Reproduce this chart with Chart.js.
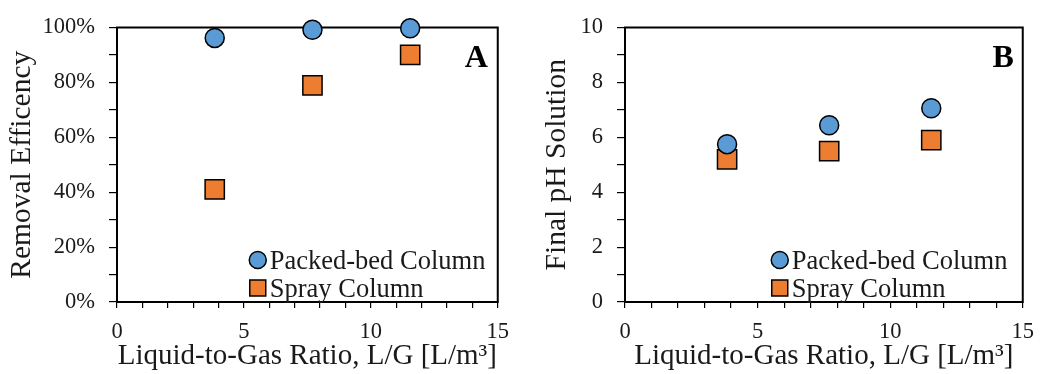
<!DOCTYPE html>
<html>
<head>
<meta charset="utf-8">
<script src="https://cdn.jsdelivr.net/npm/chart.js@4/dist/chart.umd.min.js"></script>
<style>
  html, body { margin: 0; padding: 0; background: #fff; }
  body { width: 1045px; height: 374px; position: relative; overflow: hidden; }
  #wa { position: absolute; left: 0; top: 0; width: 520px; height: 374px; }
  #wb { position: absolute; left: 520px; top: 0; width: 525px; height: 374px; }
</style>
</head>
<body>
<div id="wa"><canvas id="ca" width="520" height="374"></canvas></div>
<div id="wb"><canvas id="cb" width="525" height="374"></canvas></div>
<script>
// ---- data ----
const lgRatio = [3.85, 7.7, 11.55];
const removalPacked = [96.2, 99.2, 99.7];
const removalSpray = [41.0, 78.9, 90.0];
const phPacked = [5.75, 6.44, 7.06];
const phSpray = [5.2, 5.5, 5.9];
const seriesNames = ['Packed-bed Column', 'Spray Column'];
const panelLabels = ['A', 'B'];
const xTitle = 'Liquid-to-Gas Ratio, L/G [L/m³]';
const yTitles = ['Removal Efficency', 'Final pH Solution'];

const FONT = "'Liberation Serif', 'Times New Roman', serif";
const BLUE = '#5B9BD5';
const ORANGE = '#ED7D31';

const framePlugin = {
  id: 'frame',
  beforeDatasetsDraw(chart) {
    const a = chart.chartArea, ctx = chart.ctx;
    ctx.save();
    ctx.strokeStyle = '#000';
    ctx.lineWidth = 2;
    ctx.strokeRect(a.left, a.top, a.right - a.left, a.bottom - a.top);
    ctx.restore();
  }
};

const overlayPlugin = {
  id: 'overlay',
  afterDatasetsDraw(chart, args, opts) {
    const a = chart.chartArea, ctx = chart.ctx;
    ctx.save();
    // panel letter
    ctx.fillStyle = '#000';
    ctx.font = 'bold 32px ' + FONT;
    ctx.textAlign = 'right';
    ctx.textBaseline = 'alphabetic';
    ctx.fillText(opts.letter, a.right - opts.letterDx, a.top + 39);
    // legend
    const lx = a.right - opts.legendDx;
    const ds = chart.data.datasets;
    const rows = [{y: 260, base: 269}, {y: 288, base: 297}];
    ds.forEach((d, i) => {
      const r = rows[i];
      ctx.fillStyle = d.backgroundColor;
      ctx.strokeStyle = '#000';
      ctx.lineWidth = 1.5;
      ctx.beginPath();
      if (d.pointStyle === 'circle') {
        ctx.arc(lx, r.y, 8.5, 0, Math.PI * 2);
      } else {
        ctx.rect(lx - 8, r.y - 8, 16, 16);
      }
      ctx.fill();
      ctx.stroke();
      ctx.fillStyle = '#1a1a1a';
      ctx.font = '26.5px ' + FONT;
      ctx.textAlign = 'left';
      ctx.fillText(d.label, lx + 12, r.base);
    });
    ctx.restore();
  }
};

function makeChart(id, yA, yB, cfg) {
  return new Chart(document.getElementById(id), {
    type: 'scatter',
    data: {
      datasets: [
        { label: seriesNames[0], data: lgRatio.map((x, i) => ({x, y: yA[i]})),
          pointStyle: 'circle', pointRadius: 9.5, pointHoverRadius: 9.5,
          backgroundColor: BLUE, borderColor: '#000', borderWidth: 1.5, clip: false },
        { label: seriesNames[1], data: lgRatio.map((x, i) => ({x, y: yB[i]})),
          pointStyle: 'rect', pointRadius: 13.6, pointHoverRadius: 13.6,
          backgroundColor: ORANGE, borderColor: '#000', borderWidth: 1.5, clip: false }
      ]
    },
    options: {
      responsive: false,
      animation: false,
      events: [],
      layout: { padding: { left: 0, right: cfg.padRight, top: 24, bottom: 0 } },
      plugins: {
        legend: { display: false },
        tooltip: { enabled: false },
        overlay: { letter: cfg.letter, letterDx: cfg.letterDx, legendDx: cfg.legendDx }
      },
      scales: {
        x: {
          type: 'linear', min: 0, max: 15,
          border: { display: true, color: '#000', width: 2 },
          grid: { drawOnChartArea: false, drawTicks: true, tickLength: 6, color: '#000', lineWidth: 1.2 },
          ticks: {
            stepSize: 1, autoSkip: false, maxRotation: 0, padding: 11,
            color: '#1a1a1a', font: { family: FONT, size: 22.5 },
            callback: v => (v % 5 === 0 ? String(v) : '')
          },
          title: { display: true, text: xTitle, color: '#1a1a1a',
                   font: { family: FONT, size: 29 }, padding: { top: 0, bottom: 0 } },
          afterFit: s => { s.height = 72; }
        },
        y: {
          type: 'linear', min: cfg.yMin, max: cfg.yMax,
          border: { display: true, color: '#000', width: 2 },
          grid: { drawOnChartArea: false, drawTicks: true, tickLength: 8, color: '#000', lineWidth: 1.2 },
          ticks: {
            stepSize: cfg.yStep, autoSkip: false, padding: 14,
            color: '#1a1a1a', font: { family: FONT, size: 22.5 },
            callback: cfg.yLabel
          },
          title: { display: true, text: cfg.yTitle, color: '#1a1a1a',
                   font: { family: FONT, size: 29.5 }, padding: { top: cfg.yTitlePad, bottom: 0 } },
          afterFit: s => { s.width = cfg.yWidth; }
        }
      }
    },
    plugins: [framePlugin, overlayPlugin]
  });
}

makeChart('ca', removalPacked, removalSpray, {
  letter: panelLabels[0], letterDx: 10, legendDx: 240, padRight: 18,
  yMin: 0, yMax: 100, yStep: 10, yWidth: 117, yTitlePad: 5, yTitle: yTitles[0],
  yLabel: v => (v % 20 === 0 ? v + '%' : '')
});
makeChart('cb', phPacked, phSpray, {
  letter: panelLabels[1], letterDx: 9, legendDx: 243, padRight: 16,
  yMin: 0, yMax: 10, yStep: 1, yWidth: 105, yTitlePad: 20, yTitle: yTitles[1],
  yLabel: v => (v % 2 === 0 ? String(v) : '')
});
</script>
</body>
</html>
